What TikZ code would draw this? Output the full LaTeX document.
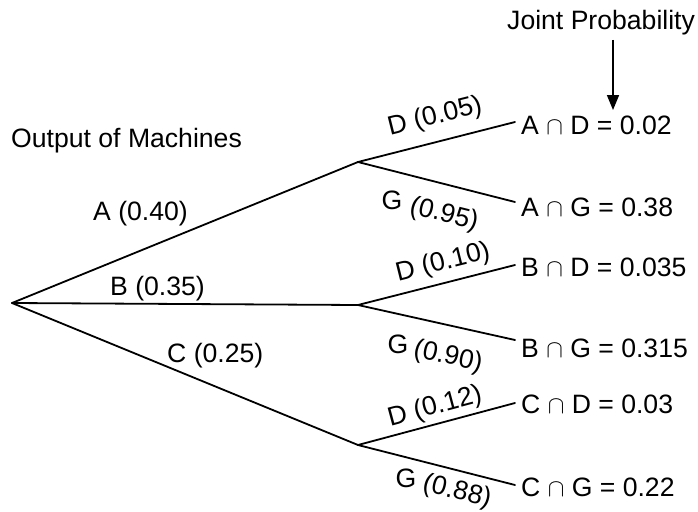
\documentclass[tikz,border=0pt]{standalone}
\usepackage{fontspec}
\setmainfont{Liberation Sans}
\usetikzlibrary{arrows.meta}
\tikzset{
  branch/.style={line width=1.8pt, line cap=round},
  lbl/.style={inner sep=0pt, font=\fontsize{26.6}{30}\selectfont},
  leaf/.style={lbl, anchor=base west},
}
\begin{document}
\begin{tikzpicture}[x=1pt,y=-1pt]
\useasboundingbox (0,0) rectangle (698,511);
% tree points
\coordinate (root) at (12,303);
\coordinate (a) at (358,162);
\coordinate (b) at (358,305);
\coordinate (c) at (358,445);
% leaf end points
\coordinate (ead) at (515,122);
\coordinate (eag) at (515,202);
\coordinate (ebd) at (515,265);
\coordinate (ebg) at (515,340);
\coordinate (ecd) at (515,403);
\coordinate (ecg) at (515,485);
% titles
\node[leaf] (title) at (11,147) {Output of Machines};
\node[leaf] (joint) at (507,30) {Joint Probability};
\coordinate (arrtail) at (613,40);
\coordinate (arrtip) at (613,110);
\draw[line width=1.6pt, -{Triangle[width=12pt,length=15pt]}] (arrtail) -- (arrtip);
% branches
\draw[branch] (root) -- (a);
\draw[branch] (root) -- (b);
\draw[branch] (root) -- (c);
\draw[branch] (a) -- (ead);
\draw[branch] (a) -- (eag);
\draw[branch] (b) -- (ebd);
\draw[branch] (b) -- (ebg);
\draw[branch] (c) -- (ecd);
\draw[branch] (c) -- (ecg);
% first level labels
\node[leaf] (la) at (93,220) {A (0.40)};
\node[leaf] (lb) at (110,295) {B (0.35)};
\node[leaf] (lc) at (167,362) {C (0.25)};
% second level labels
\node[lbl, rotate=14] (lad) at (435,117) {D (0.05)};
\node[lbl] (lagG) at (392,200) {G};
\node[lbl, rotate=-14] (lag) at (444,215) {(0.95)};
\node[lbl, rotate=14] (lbd) at (443,263) {D (0.10)};
\node[lbl] (lbgG) at (398,344) {G};
\node[lbl, rotate=-12] (lbg) at (448,357) {(0.90)};
\node[lbl, rotate=15] (lcd) at (435,407) {D (0.12)};
\node[lbl] (lcgG) at (406,478) {G};
\node[lbl, rotate=-14] (lcg) at (457,492) {(0.88)};
% leaves
\node[leaf] (AD) at (521,134) {A $\cap$ D = 0.02};
\node[leaf] (AG) at (521,216) {A $\cap$ G = 0.38};
\node[leaf] (BD) at (521,276) {B $\cap$ D = 0.035};
\node[leaf] (BG) at (521,357) {B $\cap$ G = 0.315};
\node[leaf] (CD) at (521,413) {C $\cap$ D = 0.03};
\node[leaf] (CG) at (521,496) {C $\cap$ G = 0.22};
\end{tikzpicture}
\end{document}
